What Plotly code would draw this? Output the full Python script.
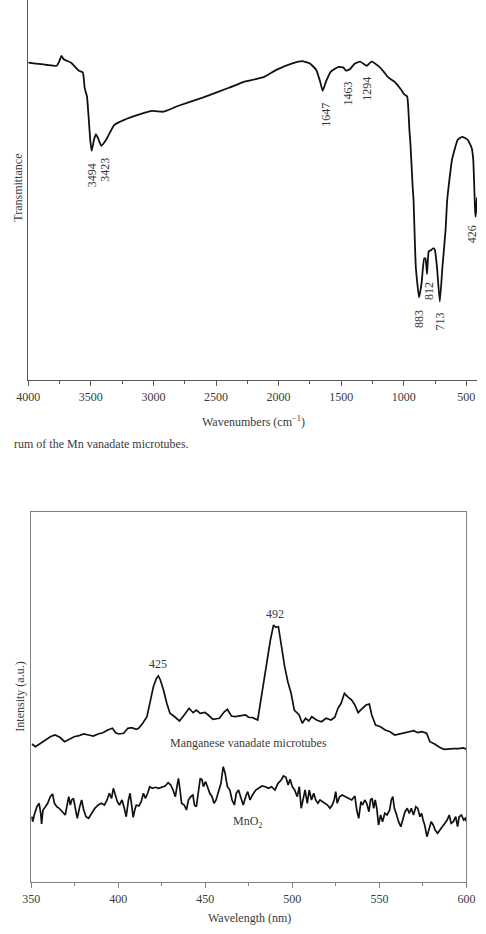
import plotly.graph_objects as go

# ---------------- Top chart: FTIR spectrum ----------------
wavenumber = [4000, 3850, 3773, 3753, 3735, 3717, 3658, 3595, 3564, 3549, 3531, 3518, 3505,
              3493, 3475, 3460, 3442, 3417, 3378, 3314, 3238, 3111, 3009, 2920, 2805, 2601,
              2397, 2272, 2119, 2018, 1890, 1813, 1750, 1699, 1668, 1648, 1622, 1584, 1521,
              1482, 1462, 1431, 1393, 1350, 1325, 1296, 1258, 1202, 1164, 1126, 1075, 1024,
              998, 973, 955, 947, 929, 922, 904, 878, 858, 837, 827, 814, 801, 781, 763, 751,
              735, 712, 691, 666, 653, 615, 569, 534, 488, 457, 445, 436, 430, 426, 421, 415]
transmittance = [83.5, 82.9, 82.7, 83.8, 85.3, 84.4, 83.5, 81.4, 80.9, 76.8, 74.6, 69.3, 63.2,
                 60.3, 63.2, 64.7, 63.6, 61.6, 63.2, 67.1, 68.4, 69.9, 70.8, 70.6, 72.1, 74.4,
                 76.9, 78.5, 79.7, 81.6, 83.3, 83.9, 83.3, 81.6, 78.5, 76.1, 78.5, 81.1, 82.4,
                 82.2, 81.4, 81.8, 83.2, 83.8, 83.3, 82.7, 83.8, 82.6, 81.3, 79.7, 78.5, 76.5,
                 75.2, 74.6, 65.8, 62.3, 50.9, 47.4, 29.8, 21.7, 25.4, 32.0, 32.0, 27.9, 33.8,
                 34.2, 34.7, 34.2, 29.8, 20.6, 29.8, 39.5, 47.4, 57.9, 63.2, 64.0, 63.2, 61.0,
                 58.0, 50.0, 44.5, 43.0, 45.0, 48.0]
ftir_labels = ["3494", "3423", "1647", "1463", "1294", "883", "812", "713", "426"]
ftir_label_x = [3490, 3388, 1617, 1449, 1296, 876, 799, 713, 453]
ftir_label_y = [53.9, 55.3, 69.7, 75.3, 76.6, 16.1, 23.4, 15.3, 38.4]
ftir_ticks = [4000, 3500, 3000, 2500, 2000, 1500, 1000, 500]

# ---------------- Bottom chart: emission spectra ----------------
wl_mv = [350.5, 352.4, 355.5, 358.2, 361.0, 363.7, 366.5, 369.2, 372.0, 374.7, 377.5, 380.2,
         383.0, 385.7, 388.5, 391.2, 394.0, 396.7, 398.5, 400.4, 403.1, 405.5, 407.7, 410.4,
         411.7, 414.1, 416.5, 418.3, 420.2, 422.0, 423.1, 424.2, 426.0, 427.9, 429.7, 431.9,
         434.2, 435.2, 437.9, 440.7, 443.0, 444.9, 447.1, 449.8, 451.7, 454.4, 458.1, 460.8,
         462.7, 465.0, 467.2, 470.0, 473.1, 474.9, 477.3, 480.1, 481.9, 483.7, 485.6, 487.4,
         489.2, 490.5, 492.0, 493.8, 495.6, 497.4, 499.3, 501.1, 503.9, 505.7, 507.6, 509.4,
         511.2, 513.9, 516.7, 519.4, 522.2, 524.4, 526.2, 528.0, 529.9, 531.7, 534.1, 535.9,
         537.8, 539.6, 542.3, 544.2, 545.6, 547.8, 550.6, 553.3, 556.1, 558.8, 561.6, 564.3,
         567.0, 569.8, 572.0, 574.4, 577.1, 579.0, 581.7, 584.5, 587.2, 590.0, 592.7, 595.5,
         598.2, 600.0]
int_mv = [138, 135.3, 138.7, 142, 145.3, 147, 144.7, 140.3, 142.7, 145.3, 146.3, 148,
          147, 146, 148, 149.3, 152, 153.7, 149.3, 148, 148.7, 153.7, 154.3, 152.7,
          153.7, 158.7, 165.3, 178.7, 195.3, 203.7, 206, 202, 192, 178.7, 168.7, 166,
          162, 161, 167, 173.7, 169.3, 172, 168.7, 169.7, 167, 162.7, 163.7, 170,
          172.7, 166, 165.3, 166.3, 167, 164.7, 164.3, 162, 182, 205.3, 225.3, 242,
          257, 254.7, 255.3, 235.3, 215.3, 200.3, 188.7, 172, 167, 158.7, 163.7, 161,
          165.3, 162, 160.3, 163.7, 162, 164.7, 173.7, 178.7, 188.7, 185.3, 182, 177,
          169.3, 172.7, 177, 178, 167, 157, 155.3, 152, 150.3, 147, 148, 148.7,
          150.3, 151.3, 149.3, 150.3, 148.7, 140.3, 138, 134.7, 132.7, 133.3, 133.3, 133.3,
          134, 132.7]

wl_mno2 = [350.4, 350.9, 351.8, 353.3, 354.6, 355.5, 356.0, 356.8, 358.2, 359.5, 361.0, 362.3,
           363.4, 364.7, 366.1, 368.0, 369.6, 370.5, 371.6, 372.5, 373.3, 374.3, 375.3, 376.5,
           377.9, 379.0, 380.2, 381.5, 383.0, 384.8, 386.6, 388.5, 390.3, 392.1, 393.6, 394.9,
           396.2, 397.2, 398.2, 399.5, 400.7, 402.2, 403.5, 404.6, 405.9, 406.8, 407.7, 408.6,
           409.5, 410.4, 411.9, 413.2, 414.5, 415.6, 416.9, 418.1, 419.6, 421.4, 423.2, 425.1,
           426.9, 428.7, 430.2, 431.5, 432.8, 433.9, 434.6, 435.5, 436.4, 437.9, 439.2, 440.3,
           441.6, 442.9, 443.8, 444.9, 445.8, 447.1, 448.2, 448.9, 450.2, 451.3, 452.6, 453.9,
           455.0, 456.2, 457.7, 459.0, 460.3, 461.4, 462.7, 464.1, 465.4, 466.7, 467.8, 469.1,
           470.3, 471.8, 473.5, 474.4, 475.7, 477.1, 479.0, 480.8, 482.6, 484.5, 486.3, 488.1,
           490.0, 491.8, 493.6, 494.9, 496.3, 497.6, 498.7, 500.0, 501.3, 502.8, 504.0, 505.1,
           506.4, 507.3, 508.6, 509.7, 511.0, 512.3, 513.4, 514.7, 515.9, 517.4, 518.7, 520.2,
           521.6, 522.9, 524.0, 524.9, 525.8, 527.1, 528.6, 530.4, 532.3, 534.1, 535.9, 537.0,
           538.1, 539.4, 540.3, 541.6, 542.7, 544.0, 544.9, 545.8, 546.7, 547.6, 548.5, 549.5,
           550.7, 551.8, 553.1, 554.4, 555.9, 556.8, 557.7, 558.6, 559.9, 561.0, 562.3, 563.6,
           564.7, 566.0, 567.2, 568.3, 569.6, 570.9, 572.0, 573.3, 574.2, 575.1, 576.0, 577.3,
           578.4, 579.7, 580.9, 582.0, 583.4, 584.6, 586.1, 587.6, 588.9, 590.1, 591.2, 592.5,
           593.8, 594.9, 595.8, 597.1, 598.4, 599.3, 600.0]
int_mno2 = [65.3, 60.3, 67, 75.3, 78.7, 68.7, 58, 72, 75.3, 78.7, 85.3, 88,
            78.7, 75.3, 73.7, 70.3, 67, 75.3, 85.3, 77, 82, 83.7, 73.7, 63.7,
            75.3, 82, 72, 65.3, 63.7, 68.7, 73.7, 77, 78.7, 77, 82, 88.7,
            83.7, 93.7, 88.7, 80.3, 77, 82, 73.7, 65.3, 82, 88.7, 77, 64.7,
            72, 77, 76, 80.3, 88.7, 83.7, 88.7, 95.3, 93.7, 94.7, 93.7, 95.3,
            96, 99.3, 97, 92, 85.3, 97, 103.7, 92, 78.7, 77, 72, 82,
            85.3, 87, 77, 75.3, 85.3, 103.7, 102, 95.3, 100.3, 95.3, 88.7, 85.3,
            78.7, 82, 92, 98.7, 115.3, 108.7, 95.3, 92, 82, 77, 88.7, 92,
            85.3, 77, 87, 90.3, 82, 87, 92, 93.7, 96, 95.3, 93.7, 95.3,
            92, 98.7, 102, 106, 104.7, 97, 102.7, 95.3, 92, 85.3, 95.3, 73.7,
            85.3, 92, 78.7, 92, 82, 88.7, 82, 78.7, 82, 80.3, 78.7, 77,
            73.7, 77, 82, 90.3, 78.7, 85.3, 87, 85.3, 83.7, 82, 86, 72,
            63.7, 80.3, 77, 82, 78.7, 70.3, 82, 83.7, 73.7, 82, 73.7, 57,
            67, 60.3, 68.7, 67, 72, 82, 85.3, 73.7, 67, 60.3, 55.3, 63.7,
            70.3, 73.7, 68.7, 73.7, 67, 75.3, 73.7, 65.3, 68.7, 62, 57, 45.3,
            53.7, 60.3, 57, 52, 48.7, 52, 55.3, 58.7, 62, 67, 58.7, 60.3,
            65.3, 55.3, 65.3, 67, 62, 63.7, 60.3]
em_ticks = [350, 400, 450, 500, 550, 600]

SERIF = "Liberation Serif, Times New Roman, serif"
TXT = "#3a3a3a"
AX = "#5a5a5a"
FS = 12

fig = go.Figure()
fig.add_trace(go.Scatter(x=wavenumber, y=transmittance, mode="lines",
                         line=dict(color="#111111", width=1.8, shape="spline", smoothing=0.4),
                         xaxis="x", yaxis="y", showlegend=False, hoverinfo="skip"))
fig.add_trace(go.Scatter(x=wl_mv, y=int_mv, mode="lines",
                         line=dict(color="#111111", width=1.7),
                         xaxis="x2", yaxis="y2", showlegend=False, hoverinfo="skip"))
fig.add_trace(go.Scatter(x=wl_mno2, y=int_mno2, mode="lines",
                         line=dict(color="#111111", width=1.7),
                         xaxis="x2", yaxis="y2", showlegend=False, hoverinfo="skip"))

W, H = 486, 934
top_dom = [1 - 380 / H, 1.0]
bot_dom = [1 - 882 / H, 1 - 512 / H]

fig.update_layout(
    width=W, height=H, margin=dict(l=0, r=0, t=0, b=0),
    paper_bgcolor="white", plot_bgcolor="white",
    font=dict(family=SERIF, size=FS, color=TXT),
    xaxis=dict(domain=[17 / W, 1.0], range=[4000, 415], anchor="y",
               showgrid=False, zeroline=False, showline=True, linecolor=AX, linewidth=1.2,
               tickmode="array", tickvals=ftir_ticks, ticks="outside", ticklen=5,
               tickcolor=AX, tickwidth=1, tickfont=dict(family=SERIF, size=FS, color=TXT),
               minor=dict(dtick=250, ticks="outside", ticklen=3, tickcolor=AX, tickwidth=1,
                          showgrid=False)),
    yaxis=dict(domain=top_dom, range=[0, 100], anchor="x",
               showgrid=False, zeroline=False, showline=True, linecolor=AX, linewidth=1.2,
               showticklabels=False, ticks=""),
    xaxis2=dict(domain=[20 / W, 475 / W], range=[350, 600], anchor="y2",
                showgrid=False, zeroline=False, showline=True, mirror=True,
                linecolor="#808080", linewidth=1.3,
                tickmode="array", tickvals=em_ticks, ticks="outside", ticklen=5,
                tickcolor="#808080", tickwidth=1, tickfont=dict(family=SERIF, size=FS, color=TXT),
                minor=dict(dtick=25, ticks="outside", ticklen=3, tickcolor="#808080",
                           tickwidth=1, showgrid=False)),
    yaxis2=dict(domain=bot_dom, range=[0, 370], anchor="x2",
                showgrid=False, zeroline=False, showline=True, mirror=True,
                linecolor="#808080", linewidth=1.3, showticklabels=False, ticks=""),
)


def lab(x, y, text, xref, yref, angle=0, xanchor="center"):
    return dict(x=x, y=y, xref=xref, yref=yref, text=text, showarrow=False,
                textangle=angle, xanchor=xanchor, yanchor="middle",
                font=dict(family=SERIF, size=FS, color=TXT))


ann = [lab(x, y, t, "x", "y", -90) for t, x, y in zip(ftir_labels, ftir_label_x, ftir_label_y)]
ann += [
    lab(422.9, 218, "425", "x2", "y2"),
    lab(490.0, 268, "492", "x2", "y2"),
    lab(474.7, 139, "Manganese vanadate microtubes", "x2", "y2"),
    lab(474.7, 60, "MnO<sub>2</sub>", "x2", "y2"),
    lab(252 / W, 1 - 421 / H, "Wavenumbers (cm<sup>\u22121</sup>)", "paper", "paper"),
    lab(6 / W, 1 - 188 / H, "Transmittance", "paper", "paper", -90),
    lab(0, 1 - 444 / H, "rum of the Mn vanadate microtubes.", "paper", "paper", 0, "left"),
    lab(248 / W, 1 - 918 / H, "Wavelength (nm)", "paper", "paper"),
    lab(8 / W, 1 - 697 / H, "Intensity (a.u.)", "paper", "paper", -90),
]
fig.update_layout(annotations=ann)

fig.write_html("out.html")
